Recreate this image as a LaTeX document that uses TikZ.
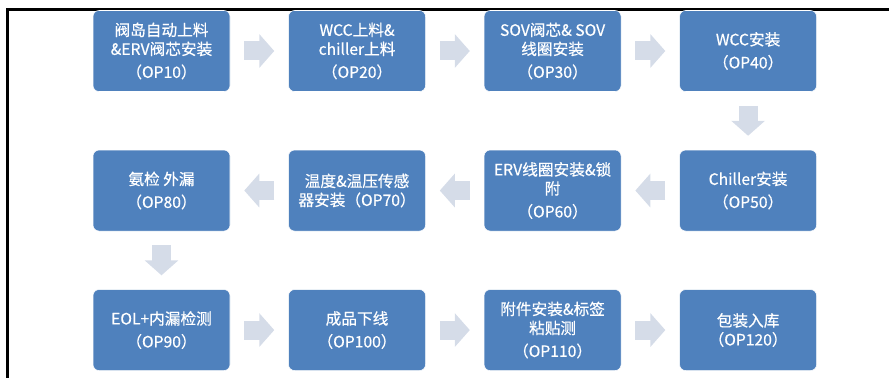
\documentclass[tikz,border=0pt]{standalone}
\usepackage{fontspec}
\setmainfont{Noto Sans CJK SC}[FakeBold=0.5]
\usepackage{tikz}
\usetikzlibrary{arrows.meta,positioning}
\definecolor{boxblue}{HTML}{4F81BD}
\definecolor{arrowgray}{HTML}{D5DCE8}

\begin{document}
\begin{tikzpicture}[
    x=0.75pt,
    y=-0.75pt,
    node distance=43.5pt and 43.5pt,
    op node/.style={rectangle,rounded corners=4.5pt,fill=boxblue,draw=white,thin,
      minimum width=102.75pt,minimum height=60.75pt,inner sep=0pt,align=center,
      text=white,font=\fontsize{11.75pt}{14.25pt}\selectfont},
    flow arrow/.style={draw=arrowgray,line width=14.25pt,shorten >=10.5pt,shorten <=10.5pt,
      -{Triangle[width=24.75pt,length=11.25pt,fill=arrowgray]}}]

  \useasboundingbox (0,0) rectangle (889,378);
  \draw[line width=2.25pt] (7,378) -- (7,9.5) -- (889,9.5);

  \node[op node] (OP10) at (161.5,51) {阀岛自动上料\\\&ERV阀芯安装\\[3pt]（OP10）};
  \node[op node] (OP20) [right=of OP10] {WCC上料\&\\chiller上料\\[3pt]（OP20）};
  \node[op node] (OP30) [right=of OP20] {SOV阀芯\& SOV\\线圈安装\\[3pt]（OP30）};
  \node[op node] (OP40) [right=of OP30] {WCC安装\\[3pt]（OP40）};
  \node[op node] (OP50) [below=of OP40] {Chiller安装\\[3pt]（OP50）};
  \node[op node] (OP60) [left=of OP50] {ERV线圈安装\&锁\\附\\[3pt]（OP60）};
  \node[op node] (OP70) [left=of OP60] {温度\&温压传感\\器安装（OP70）};
  \node[op node] (OP80) [left=of OP70] {氨检 外漏\\[3pt]（OP80）};
  \node[op node] (OP90) [below=of OP80] {EOL+内漏检测\\[3pt]（OP90）};
  \node[op node] (OP100) [right=of OP90] {成品下线\\[3pt]（OP100）};
  \node[op node] (OP110) [right=of OP100] {附件安装\&标签\\粘贴测\\[3pt]（OP110）};
  \node[op node] (OP120) [right=of OP110] {包装入库\\（OP120）};

  \path
    (OP10) edge[flow arrow] (OP20)
    (OP20) edge[flow arrow] (OP30)
    (OP30) edge[flow arrow] (OP40)
    (OP40) edge[flow arrow] (OP50)
    (OP50) edge[flow arrow] (OP60)
    (OP60) edge[flow arrow] (OP70)
    (OP70) edge[flow arrow] (OP80)
    (OP80) edge[flow arrow] (OP90)
    (OP90) edge[flow arrow] (OP100)
    (OP100) edge[flow arrow] (OP110)
    (OP110) edge[flow arrow] (OP120);
\end{tikzpicture}
\end{document}
